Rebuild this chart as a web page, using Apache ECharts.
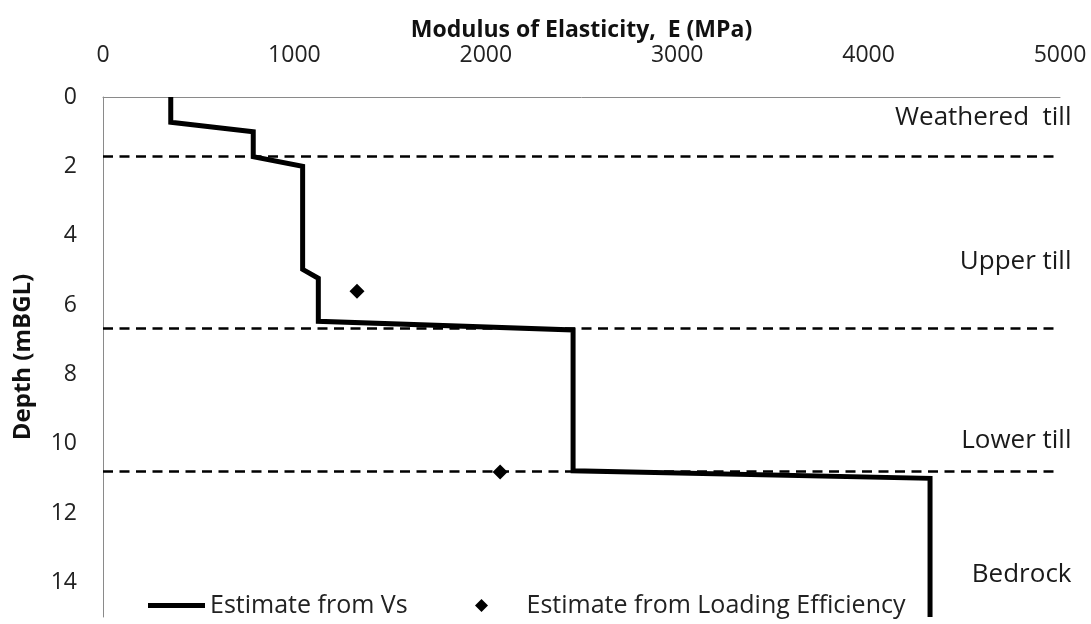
<!DOCTYPE html>
<html>
<head>
<meta charset="utf-8">
<script src="https://cdn.jsdelivr.net/npm/echarts@6/dist/echarts.min.js"></script>
<style>html,body{margin:0;padding:0;background:#fff;}#c{width:1091px;height:624px;}</style>
</head>
<body>
<div id="c"></div>
<script>
// Estimate from Vs: step profile [modulus MPa, depth m]
const vsModulus = [354, 354, 785, 785, 1043, 1043, 1125, 1125, 2456, 2456, 4321, 4321];
const vsDepth   = [0, 0.73, 1.0, 1.72, 2.0, 4.97, 5.23, 6.47, 6.72, 10.78, 11.0, 15];
// Estimate from Loading Efficiency
const leModulus = [1327, 2075];
const leDepth   = [5.6, 10.82];
// Layer boundaries (dashed lines)
const boundaries = [1.71, 6.68, 10.8];
// Layer labels
const layerNames  = ['Weathered  till', 'Upper till', 'Lower till', 'Bedrock'];
const layerDepths = [0.58, 4.75, 9.9, 13.78];
const xTicks = [0, 1000, 2000, 3000, 4000, 5000];
const yTicks = [0, 2, 4, 6, 8, 10, 12, 14];

const FONT = 'Open Sans';
const DIAMOND = 'path://M0,-1L1,0L0,1L-1,0Z';
const chart = echarts.init(document.getElementById('c'), null, {renderer: 'canvas'});
const vsData = vsModulus.map((x, i) => [x, vsDepth[i]]);
const leData = leModulus.map((x, i) => [x, leDepth[i]]);
const layerData = layerNames.map((n, i) => [xTicks[xTicks.length - 1], layerDepths[i], n]);

chart.setOption({
  animation: false,
  backgroundColor: '#fff',
  textStyle: {fontFamily: FONT},
  grid: {left: 103, right: 31, top: 97, bottom: 7},
  xAxis: {
    type: 'value', position: 'top', min: 0, max: 5000, interval: 1000,
    name: 'Modulus of Elasticity,  E (MPa)', nameLocation: 'middle', nameGap: 55,
    nameMoveOverlap: false,
    nameTextStyle: {fontFamily: FONT, fontSize: 23, fontWeight: 'bold', color: '#111'},
    axisLine: {show: true, lineStyle: {color: '#8a8a8a', width: 1}},
    axisTick: {show: false}, splitLine: {show: false},
    axisLabel: {fontFamily: FONT, fontSize: 23, color: '#222', margin: 30,
      formatter: v => (xTicks.indexOf(v) >= 0 ? String(v) : '')}
  },
  yAxis: {
    type: 'value', inverse: true, min: 0, max: 15, interval: 2,
    name: 'Depth (mBGL)', nameLocation: 'middle', nameGap: 68,
    nameMoveOverlap: false,
    nameTextStyle: {fontFamily: FONT, fontSize: 24, fontWeight: 'bold', color: '#111'},
    axisLine: {show: true, lineStyle: {color: '#8a8a8a', width: 1}},
    axisTick: {show: false}, splitLine: {show: false},
    axisLabel: {fontFamily: FONT, fontSize: 23, color: '#222', margin: 26,
      formatter: v => (yTicks.indexOf(v) >= 0 ? String(v) : '')}
  },
  legend: [{
    left: 143, top: 588, itemWidth: 57, itemHeight: 5, symbolKeepAspect: false,
    data: [{name: 'Estimate from Vs', icon: 'rect', itemStyle: {color: '#000'}}],
    textStyle: {fontFamily: FONT, fontSize: 25, color: '#222'}
  }, {
    left: 470, top: 588, itemWidth: 80, itemHeight: 13, symbolKeepAspect: true,
    data: [{name: 'Estimate from Loading Efficiency', icon: DIAMOND}],
    textStyle: {fontFamily: FONT, fontSize: 25, color: '#222'}
  }],
  series: [{
    name: 'Estimate from Vs', type: 'line', data: vsData,
    symbol: 'none', silent: true,
    lineStyle: {color: '#000', width: 5, cap: 'butt', join: 'miter'},
    itemStyle: {color: '#000'},
    markLine: {
      silent: true, symbol: ['none', 'none'], label: {show: false},
      lineStyle: {color: '#000', width: 2.5, type: [10, 6.5]},
      data: boundaries.map(d => ({yAxis: d}))
    }
  }, {
    name: 'Estimate from Loading Efficiency', type: 'scatter', data: leData,
    symbol: 'diamond', symbolSize: 15, silent: true,
    itemStyle: {color: '#000', opacity: 1}
  }, {
    name: 'layers', type: 'scatter', data: layerData, symbolSize: 1, silent: true,
    itemStyle: {color: '#fff', opacity: 0},
    label: {show: true, position: 'left', distance: 0, offset: [12, 0],
      fontFamily: FONT, fontSize: 26, color: '#1a1a1a', opacity: 1,
      formatter: p => p.data[2]}
  }]
});
</script>
</body>
</html>
